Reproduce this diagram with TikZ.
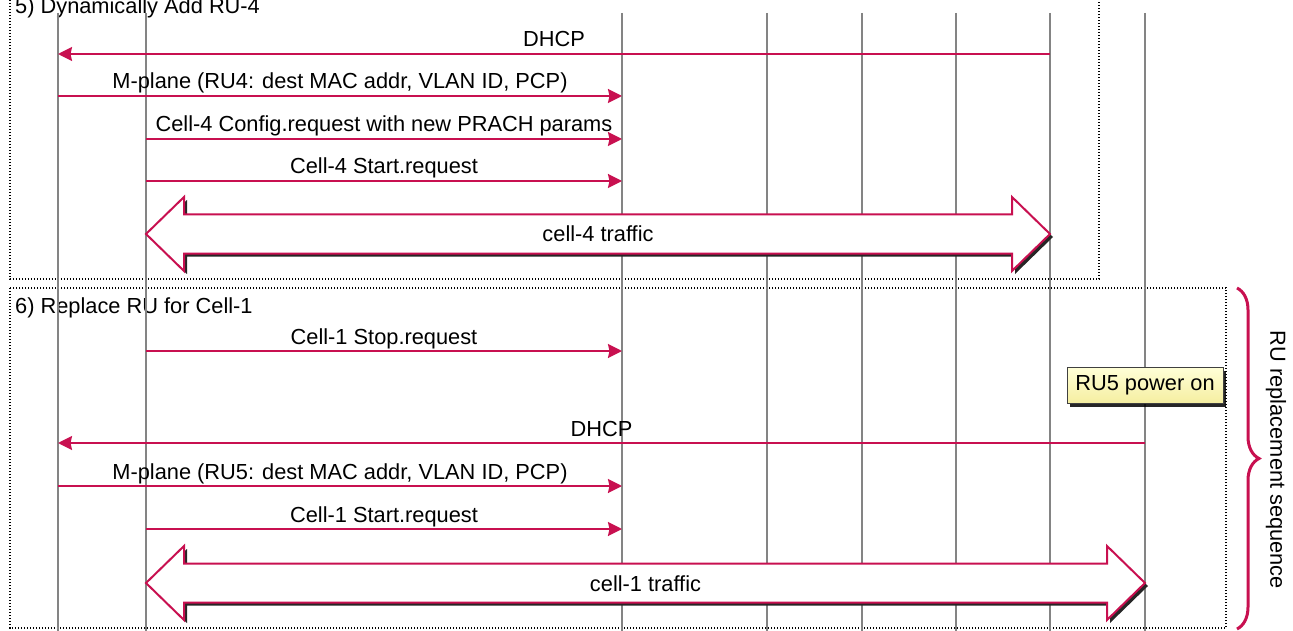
\documentclass[tikz,border=0pt]{standalone}
\usepackage{fontspec}
\setmainfont{Liberation Sans}
\usetikzlibrary{arrows.meta,decorations.pathreplacing,shadows,calc}

\definecolor{msgred}{RGB}{200,16,80}
\definecolor{lifegray}{RGB}{132,132,132}
\definecolor{notetop}{RGB}{255,255,215}
\definecolor{notebot}{RGB}{245,238,160}

% double-headed "traffic" arrow between two x positions at height #3
\newcommand\trafficarrow[5]{%
  \begin{scope}[shift={(3,3)}]
    \fill[black!85] (#1,#3) -- (#1+38,#3-37) -- (#1+38,#3-19.5) -- (#2-38,#3-19.5) -- (#2-38,#3-37)
      -- (#2,#3) -- (#2-38,#3+37) -- (#2-38,#3+19.5) -- (#1+38,#3+19.5) -- (#1+38,#3+37) -- cycle;
  \end{scope}
  \draw[trafficbody] (#1,#3) -- (#1+38,#3-37) -- (#1+38,#3-19.5) -- (#2-38,#3-19.5) -- (#2-38,#3-37)
      -- (#2,#3) -- (#2-38,#3+37) -- (#2-38,#3+19.5) -- (#1+38,#3+19.5) -- (#1+38,#3+37) -- cycle;
  \node[lbl] (#4) at ({(#1+#2)/2},#3+8) {#5};
}

\begin{document}
\begin{tikzpicture}[x=1pt,y=-1pt,
  lifeline/.style={draw=lifegray,line width=2.3pt},
  msg/.style={draw=msgred,line width=2pt,-{Stealth[length=14pt,width=14pt,inset=1.5pt]}},
  lbl/.style={anchor=base,inner sep=0pt,font=\fontsize{21.8}{26}\selectfont},
  frame/.style={draw=black,line width=1.1pt,dash pattern=on 1.2pt off 1.8pt},
  trafficbody/.style={draw=msgred,line width=2pt,fill=white,line join=miter},
  note/.style={draw=black!75,line width=1pt,top color=notetop,bottom color=notebot,
    minimum width=156pt,minimum height=36pt,inner sep=0pt,font=\fontsize{21.8}{26}\selectfont,
    drop shadow={shadow xshift=3pt,shadow yshift=-3pt,fill=black,opacity=0.85}},
  bracestyle/.style={draw=msgred,line width=3pt,decorate,
    decoration={brace,amplitude=22pt}},
]
\useasboundingbox (0,0) rectangle (1293,631);

% section frames
\draw[frame] (10,-30) rectangle (1099,279);
\draw[frame] (10,288) rectangle (1226,628);
\node[lbl,anchor=base west] (sec5) at (15,14) {5) Dynamically Add RU-4};
\node[lbl,anchor=base west] (sec6) at (15,313) {6) Replace RU for Cell-1};

% lifelines
\foreach \n/\x in {1/58,2/146,3/622,4/767,5/862,6/956,7/1050,8/1145}{
  \coordinate (t\n) at (\x,13);
  \coordinate (b\n) at (\x,631);
  \draw[lifeline] (t\n) -- (b\n);
}

% message rows
\foreach \r/\y in {1/54,2/96,3/139,4/181,5/351,6/443,7/486,8/529}{
  \coordinate (r\r) at (0,\y);
}

% section 5
\draw[msg] (t7 |- r1) -- (t1 |- r1) node[lbl,midway,yshift=7pt] (m1) {DHCP};
\draw[msg] (t1 |- r2) -- (t3 |- r2) node[lbl,midway,yshift=7pt] (m2) {M-plane (RU4: dest MAC addr, VLAN ID, PCP)};
\draw[msg] (t2 |- r3) -- (t3 |- r3) node[lbl,midway,yshift=7pt] (m3) {Cell-4 Config.request with new PRACH params};
\draw[msg] (t2 |- r4) -- (t3 |- r4) node[lbl,midway,yshift=7pt] (m4) {Cell-4 Start.request};
\trafficarrow{146}{1050}{234}{traffic4}{cell-4 traffic}

% section 6
\draw[msg] (t2 |- r5) -- (t3 |- r5) node[lbl,midway,yshift=7pt] (m5) {Cell-1 Stop.request};
\node[note] (ru5) at (1145,385.5) {RU5 power on};
\draw[msg] (t8 |- r6) -- (t1 |- r6) node[lbl,midway,yshift=7pt] (m6) {DHCP};
\draw[msg] (t1 |- r7) -- (t3 |- r7) node[lbl,midway,yshift=7pt] (m7) {M-plane (RU5: dest MAC addr, VLAN ID, PCP)};
\draw[msg] (t2 |- r8) -- (t3 |- r8) node[lbl,midway,yshift=7pt] (m8) {Cell-1 Start.request};
\trafficarrow{146}{1145}{583}{traffic1}{cell-1 traffic}

% replacement brace
\coordinate (bt) at (1237,288);
\coordinate (bb) at (1237,629);
\draw[bracestyle] (bt) -- (bb);
\node[lbl,anchor=center,rotate=-90] (seq) at (1276,460) {RU replacement sequence};
\end{tikzpicture}
\end{document}
